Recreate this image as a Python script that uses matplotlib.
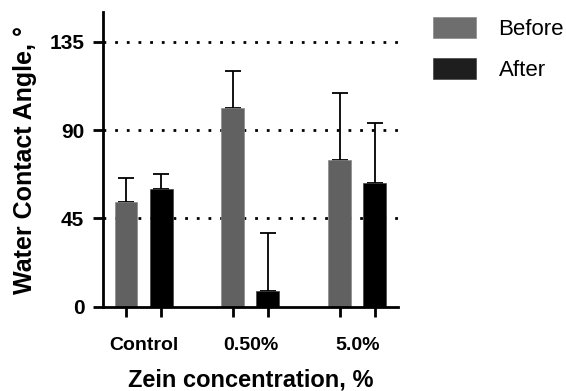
import numpy as np
import matplotlib.pyplot as plt

plt.rcParams['font.family'] = ['Liberation Sans', 'DejaVu Sans']

groups = ['Control', '0.50%', '5.0%']
before = [53.3, 101.0, 74.6]
after = [59.9, 8.1, 63.0]
before_err = [12.2, 18.8, 34.0]
after_err = [7.6, 29.5, 30.4]

x = np.arange(len(groups))
off = 0.164
w = 0.215

fig = plt.figure(figsize=(5.66, 3.91), dpi=100)
ax = fig.add_axes([0.182, 0.215, 0.521, 0.754])

for y in [45, 90, 135]:
    ax.axhline(y, color='black', linestyle=(0, (1, 3.2)), linewidth=2, zorder=0)

ax.bar(x - off, before, w, color='#616161', edgecolor='#8a8a8a', linewidth=0.5,
       label='Before', zorder=2)
ax.bar(x + off, after, w, color='black', edgecolor='#444444', linewidth=0.5,
       label='After', zorder=2)
ax.errorbar(x - off, before, yerr=[np.zeros(3), before_err], fmt='none',
            ecolor='black', elinewidth=1.3, capsize=6, capthick=1.3, zorder=1)
ax.errorbar(x + off, after, yerr=[np.zeros(3), after_err], fmt='none',
            ecolor='black', elinewidth=1.3, capsize=6, capthick=1.3, zorder=1)

ax.set_xlim(-0.379, 2.379)
ax.set_ylim(0, 150)
ax.set_yticks([0, 45, 90, 135])
ax.set_yticklabels(['0', '45', '90', '135'], fontsize=15, fontweight='bold')

ax.set_xticks(np.concatenate([x - off, x + off]))
ax.set_xticklabels([])
ax.set_xticks(x, minor=True)
ax.set_xticklabels(groups, minor=True, fontsize=14, fontweight='bold')
ax.tick_params(axis='x', which='minor', length=0, pad=22)
ax.tick_params(axis='both', which='major', length=7.5, width=2, direction='out')
ax.tick_params(axis='y', which='major', pad=6)

for s in ['top', 'right']:
    ax.spines[s].set_visible(False)
for s in ['left', 'bottom']:
    ax.spines[s].set_linewidth(2)

ax.set_ylabel('Water Contact Angle, °', fontsize=18, fontweight='bold', labelpad=9)
ax.set_xlabel('Zein concentration, %', fontsize=17, fontweight='bold', labelpad=10)

leg = ax.legend(loc='upper left', bbox_to_anchor=(433 / 566, 1 - 17 / 391),
                bbox_transform=fig.transFigure, frameon=False, fontsize=16,
                handlelength=1.95, handleheight=1.1, labelspacing=0.8,
                handletextpad=1.0, borderpad=0, borderaxespad=0)
leg.legend_handles[0].set_facecolor('#6e6e6e')
leg.legend_handles[1].set_facecolor('#1e1e1e')

fig.savefig('out.png', dpi=100)
